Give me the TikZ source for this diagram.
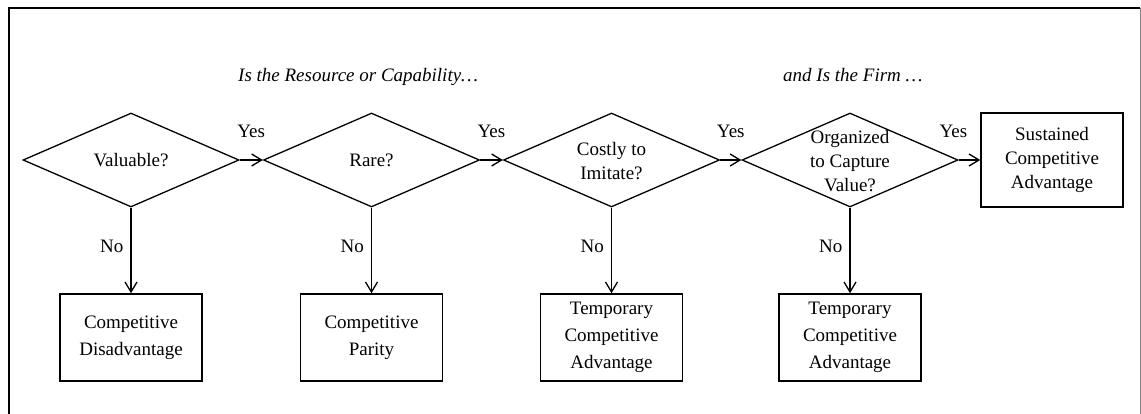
\documentclass[tikz,border=0pt]{standalone}
\usepackage{fontspec}
\setmainfont{Liberation Serif}
\usetikzlibrary{shapes.geometric,arrows.meta}
\begin{document}
\begin{tikzpicture}[x=1pt,y=-1pt,
  font=\fontsize{19}{24}\selectfont,
  dia/.style={shape=diamond, draw, line width=1.3pt, inner sep=0pt,
    minimum width=216pt, minimum height=94pt},
  txt/.style={align=center, inner sep=0pt},
  topbox/.style={draw, line width=1.5pt, minimum width=142pt, minimum height=94pt,
    inner sep=0pt, align=center},
  botbox/.style={draw, line width=1.5pt, minimum width=142pt, minimum height=87pt,
    inner sep=0pt, align=center, font=\fontsize{19}{27}\selectfont},
  arr/.style={line width=1.3pt, -{Straight Barb[length=10pt,width=12pt,line width=1.3pt]}},
  lbl/.style={inner sep=0pt},
  hdr/.style={inner sep=0pt, anchor=base west, font=\fontsize{19}{24}\selectfont\itshape}]
\useasboundingbox (0,0) rectangle (1141,414);
% frame
\draw[line width=2pt] (9,414) -- (9,8) -- (1140,8);
\draw[line width=1pt, gray] (1140,8) -- (1140,414);
% headers
\node[hdr] (h1) at (238,82) {Is the Resource or Capability…};
\node[hdr] (h2) at (783,82) {and Is the Firm …};
% diamonds
\node[dia] (d1) at (131,160) {};
\node[dia] (d2) at (371.5,160) {};
\node[dia] (d3) at (611.5,160) {};
\node[dia] (d4) at (850,160) {};
\node[txt] (t1) at (d1) {Valuable?};
\node[txt] (t2) at (d2) {Rare?};
\node[txt] (t3) at ([yshift=-1pt]d3) {Costly to\\Imitate?};
\node[txt] (t4) at ([yshift=-1pt]d4) {Organized\\to Capture\\Value?};
% boxes
\node[topbox] (s) at (1052,160) {Sustained\\Competitive\\Advantage};
\node[botbox] (b1) at (131,337.5) {Competitive\\Disadvantage};
\node[botbox] (b2) at (371.5,337.5) {Competitive\\Parity};
\node[botbox] (b3) at (611.5,337.5) {Temporary\\Competitive\\Advantage};
\node[botbox] (b4) at (850,337.5) {Temporary\\Competitive\\Advantage};
% yes arrows
\draw[arr] (d1.east) -- (d2.west) node[lbl, midway, above=22pt] {Yes};
\draw[arr] (d2.east) -- (d3.west) node[lbl, midway, above=22pt] {Yes};
\draw[arr] (d3.east) -- (d4.west) node[lbl, midway, above=22pt] {Yes};
\draw[arr] (d4.east) -- (s.west) node[lbl, midway, above=22pt, xshift=-16pt] {Yes};
% no arrows
\draw[arr] (d1.south) -- (b1.north) node[lbl, pos=0.45, left=7pt] {No};
\draw[arr] (d2.south) -- (b2.north) node[lbl, pos=0.45, left=7pt] {No};
\draw[arr] (d3.south) -- (b3.north) node[lbl, pos=0.45, left=7pt] {No};
\draw[arr] (d4.south) -- (b4.north) node[lbl, pos=0.45, left=7pt] {No};
\end{tikzpicture}
\end{document}
